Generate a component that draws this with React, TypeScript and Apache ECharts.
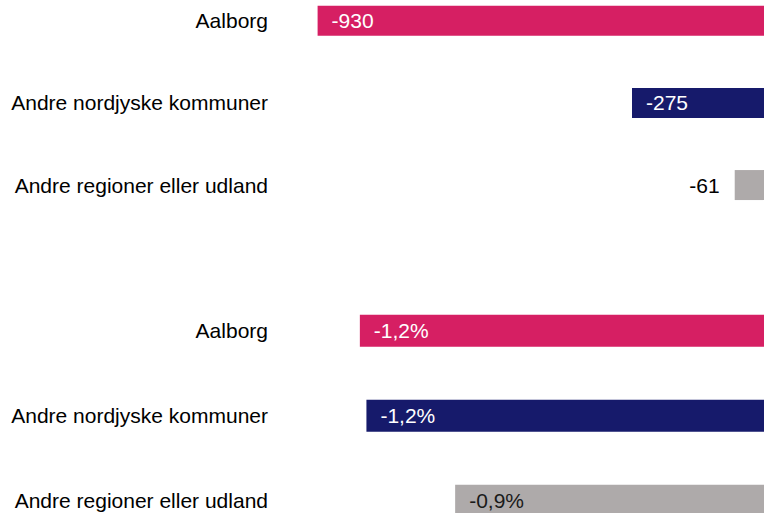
import React, { useEffect, useRef } from "react";
import * as echarts from "echarts";

const categories = ["Aalborg", "Andre nordjyske kommuner", "Andre regioner eller udland"];
const netChange = [-930, -275, -61];
const pctChange = [-1.23, -1.21, -0.94];
const barColors = ["#D61F63", "#161A6B", "#AEAAAA"];
const insideLabelColors = ["#FFFFFF", "#FFFFFF", "#1A1A1A"];

const FONT = "'Liberation Sans', Arial, sans-serif";
const OFFSET = 30;

export default function App() {
  const ref = useRef<HTMLDivElement>(null);
  useEffect(() => {
    if (!ref.current) return;
    const chart = echarts.init(ref.current, undefined, { renderer: "svg" });

    const topData = netChange.map((v, i) => {
      const outside = Math.abs(v) < 100;
      return {
        value: v,
        itemStyle: { color: barColors[i] },
        label: outside
          ? { position: "left", distance: 15, color: "#000000" }
          : { position: "insideLeft", distance: 14, color: insideLabelColors[i] },
      };
    });
    const bottomData = pctChange.map((v, i) => ({
      value: v,
      itemStyle: { color: barColors[i] },
      label: { position: "insideLeft", distance: 14, color: insideLabelColors[i] },
    }));

    const catAxis = (gridIndex: number, margin: number) => ({
      type: "category",
      gridIndex,
      data: categories,
      inverse: true,
      axisLine: { show: false },
      axisTick: { show: false },
      splitLine: { show: false },
      axisLabel: {
        margin,
        fontSize: 21,
        color: "#000000",
        fontFamily: FONT,
      },
    });

    chart.setOption({
      animation: false,
      backgroundColor: "#ffffff",
      grid: [
        { left: 284, right: 7, top: OFFSET - 20.2, height: 246.3, containLabel: false },
        { left: 304, right: 7, top: OFFSET + 288.35, height: 255, containLabel: false },
      ],
      xAxis: [
        { type: "value", gridIndex: 0, min: -1000, max: 0, show: false },
        { type: "value", gridIndex: 1, min: -1.4, max: 0, show: false },
      ],
      yAxis: [catAxis(0, 16), catAxis(1, 36)],
      series: [
        {
          type: "bar",
          xAxisIndex: 0,
          yAxisIndex: 0,
          barWidth: 30,
          data: topData,
          label: {
            show: true,
            fontSize: 21,
            fontFamily: FONT,
            formatter: (p: any) => String(p.value),
          },
        },
        {
          type: "bar",
          xAxisIndex: 1,
          yAxisIndex: 1,
          barWidth: 32,
          data: bottomData,
          label: {
            show: true,
            fontSize: 21,
            fontFamily: FONT,
            formatter: (p: any) => Number(p.value).toFixed(1).replace(".", ",") + "%",
          },
        },
      ],
    });
    return () => chart.dispose();
  }, []);

  return (
    <div
      style={{
        position: "absolute",
        left: 0,
        top: 0,
        width: 771,
        height: 513,
        overflow: "hidden",
        background: "#ffffff",
      }}
    >
      <div
        ref={ref}
        style={{ position: "absolute", left: 0, top: -OFFSET, width: 771, height: 600 }}
      />
    </div>
  );
}
